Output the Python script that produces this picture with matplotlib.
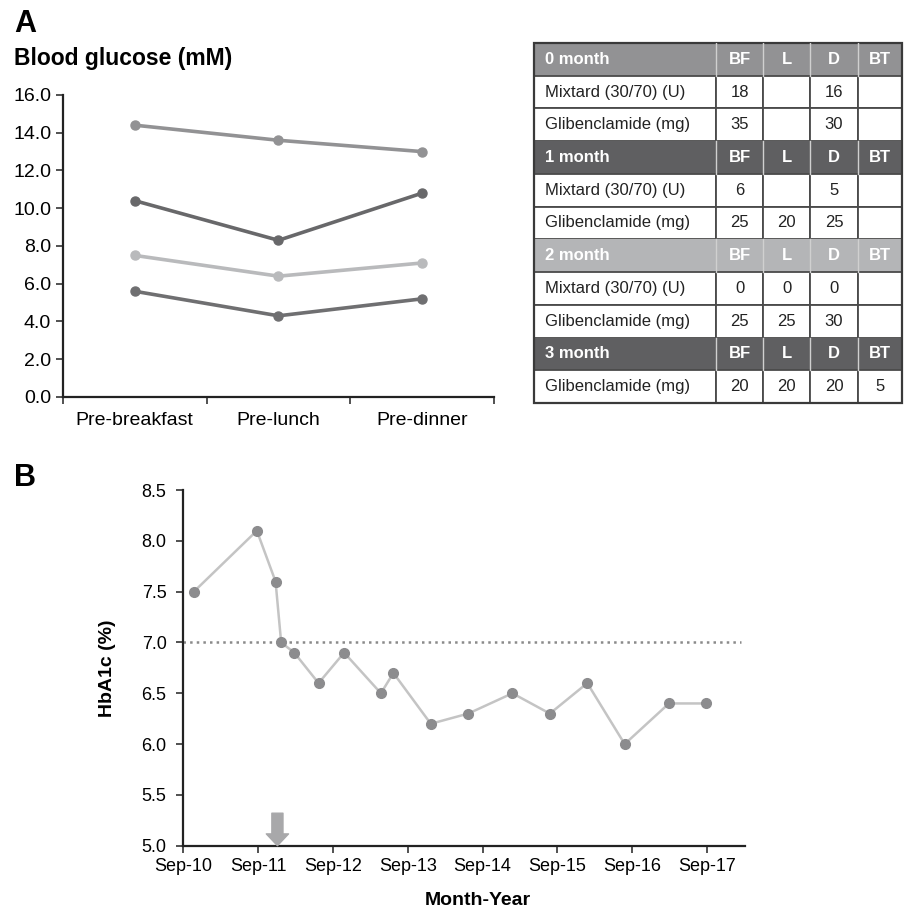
import numpy as np
import matplotlib.pyplot as plt
from matplotlib.patches import Rectangle

plt.rcParams['font.family'] = ['Liberation Sans', 'DejaVu Sans']

# ---- datos panel A: glucosa en sangre
momentos = ["Pre-breakfast", "Pre-lunch", "Pre-dinner"]
gluc_0m = [14.4, 13.6, 13.0]
gluc_1m = [10.4, 8.3, 10.8]
gluc_2m = [7.5, 6.4, 7.1]
gluc_3m = [5.6, 4.3, 5.2]

# ---- tabla de dosis
col_hdr = ["BF", "L", "D", "BT"]
bloques = [
    ("0 month", [("Mixtard (30/70) (U)", ["18", "", "16", ""]),
                 ("Glibenclamide (mg)", ["35", "", "30", ""])]),
    ("1 month", [("Mixtard (30/70) (U)", ["6", "", "5", ""]),
                 ("Glibenclamide (mg)", ["25", "20", "25", ""])]),
    ("2 month", [("Mixtard (30/70) (U)", ["0", "0", "0", ""]),
                 ("Glibenclamide (mg)", ["25", "25", "30", ""])]),
    ("3 month", [("Glibenclamide (mg)", ["20", "20", "20", "5"])]),
]

# ---- datos panel B: HbA1c (meses desde Sep-10)
meses = [1.7, 11.8, 14.8, 15.7, 17.8, 21.7, 25.8, 31.7, 33.7, 39.7,
         45.7, 52.8, 58.8, 64.8, 70.8, 77.9, 83.8]
hba1c = [7.5, 8.1, 7.6, 7.0, 6.9, 6.6, 6.9, 6.5, 6.7, 6.2,
         6.3, 6.5, 6.3, 6.6, 6.0, 6.4, 6.4]
xtick_lbl = ["Sep-10", "Sep-11", "Sep-12", "Sep-13", "Sep-14", "Sep-15", "Sep-16", "Sep-17"]
inicio_tto = 15.1
meta = 7.0

c_0m = '#929294'
c_1m = '#68686a'
c_2m = '#b9babc'
c_3m = '#6f6f71'
hdr_colors = [c_0m, '#5f5f61', '#b4b5b7', '#5f5f61']

fig = plt.figure(figsize=(9.06, 9.08), dpi=100)

#%% Panel A
ax1 = fig.add_axes([0.0695, 0.5628, 0.4757, 0.3326])
xx = np.arange(len(momentos))
for yy, cc in [(gluc_0m, c_0m), (gluc_1m, c_1m), (gluc_2m, c_2m), (gluc_3m, c_3m)]:
    ax1.plot(xx, yy, color=cc, lw=2.6, marker='o', ms=6.5, clip_on=False)
ax1.set_xlim(-0.5, 2.5)
ax1.set_ylim(0, 16)
ax1.set_yticks(np.arange(0, 16.1, 2))
ax1.set_yticklabels([f"{v:.1f}" for v in np.arange(0, 16.1, 2)], fontsize=14)
ax1.set_xticks([-0.5, 0.5, 1.5, 2.5])
ax1.set_xticklabels([])
ax1.set_xticks(xx, minor=True)
ax1.set_xticklabels(momentos, minor=True, fontsize=14)
ax1.tick_params(axis='x', which='minor', length=0, pad=11)
ax1.tick_params(axis='both', which='major', length=5, width=1.2, color='#333333')
for s in ['top', 'right']:
    ax1.spines[s].set_visible(False)
for s in ['left', 'bottom']:
    ax1.spines[s].set_linewidth(1.6)
    ax1.spines[s].set_color('#222222')

fig.text(0.016, 0.965, "A", fontsize=22, fontweight='bold', va='baseline')
fig.text(0.015, 0.928, "Blood glucose (mM)", fontsize=16.5, fontweight='bold', va='baseline')

#%% Tabla
axt = fig.add_axes([0.5894, 0.5562, 0.4062, 0.3965])
bordes = [0, 182, 229, 276, 324, 368]
n_filas = sum(1 + len(b[1]) for b in bloques)
axt.set_xlim(0, 368)
axt.set_ylim(n_filas, 0)
axt.axis('off')

fila = 0
for i, (titulo, filas) in enumerate(bloques):
    hc = hdr_colors[i]
    axt.add_patch(Rectangle((0, fila), 368, 1, facecolor=hc, edgecolor='none'))
    for b in bordes[1:-1]:
        axt.plot([b, b], [fila, fila + 1], color='#d0d0d0', lw=1.0)
    axt.text(11, fila + 0.5, titulo, color='white', fontsize=12, fontweight='bold',
             va='center', ha='left')
    for j, h in enumerate(col_hdr):
        axt.text((bordes[j + 1] + bordes[j + 2]) / 2, fila + 0.5, h, color='white',
                 fontsize=12, fontweight='bold', va='center', ha='center')
    fila += 1
    for nombre, vals in filas:
        for j in range(5):
            axt.add_patch(Rectangle((bordes[j], fila), bordes[j + 1] - bordes[j], 1,
                                    facecolor='white', edgecolor='#4a4a4a', lw=1.3))
        axt.text(11, fila + 0.5, nombre, color='#222222', fontsize=12, va='center', ha='left')
        for j, v in enumerate(vals):
            axt.text((bordes[j + 1] + bordes[j + 2]) / 2, fila + 0.5, v, color='#222222',
                     fontsize=12, va='center', ha='center')
        fila += 1
axt.add_patch(Rectangle((0, 0), 368, n_filas, facecolor='none', edgecolor='#3a3a3a',
                        lw=1.6, clip_on=False))

#%% Panel B
ax2 = fig.add_axes([0.2023, 0.0686, 0.620, 0.3917])
ax2.plot(meses, hba1c, color='#c4c4c4', lw=1.8, zorder=2)
ax2.plot(meses, hba1c, ls='none', marker='o', ms=7, color='#8c8c8e', zorder=3)
ax2.plot([0, 89.4], [meta, meta], color='#8a8a8a', ls=':', lw=1.8, zorder=1)
ax2.set_xlim(0, 90.1)
ax2.set_ylim(5.0, 8.5)
ax2.set_yticks(np.arange(5.0, 8.51, 0.5))
ax2.set_yticklabels([f"{v:.1f}" for v in np.arange(5.0, 8.51, 0.5)], fontsize=13)
ax2.set_xticks(np.arange(0, 85, 12))
ax2.set_xticklabels(xtick_lbl, fontsize=13)
ax2.tick_params(axis='both', length=5, width=1.2, color='#333333')
ax2.tick_params(axis='x', pad=4)
ax2.tick_params(axis='y', pad=7)
for s in ['top', 'right']:
    ax2.spines[s].set_visible(False)
for s in ['left', 'bottom']:
    ax2.spines[s].set_linewidth(1.6)
    ax2.spines[s].set_color('#222222')
ax2.set_ylabel("HbA1c (%)", fontsize=14, fontweight='bold')
ax2.yaxis.set_label_coords(-0.119, 0.5)
ax2.set_xlabel("Month-Year", fontsize=14, fontweight='bold')
ax2.xaxis.set_label_coords(0.524, -0.130)

ax2.annotate("", xy=(inicio_tto, 5.0), xytext=(inicio_tto, 5.32),
             arrowprops=dict(arrowstyle='simple,head_length=0.85,head_width=1.6,tail_width=0.8',
                             mutation_scale=10, color='#a8a8aa', shrinkA=0, shrinkB=0),
             annotation_clip=False)

fig.text(0.016, 0.465, "B", fontsize=22, fontweight='bold', va='baseline')

plt.savefig("out.png", dpi=100)
